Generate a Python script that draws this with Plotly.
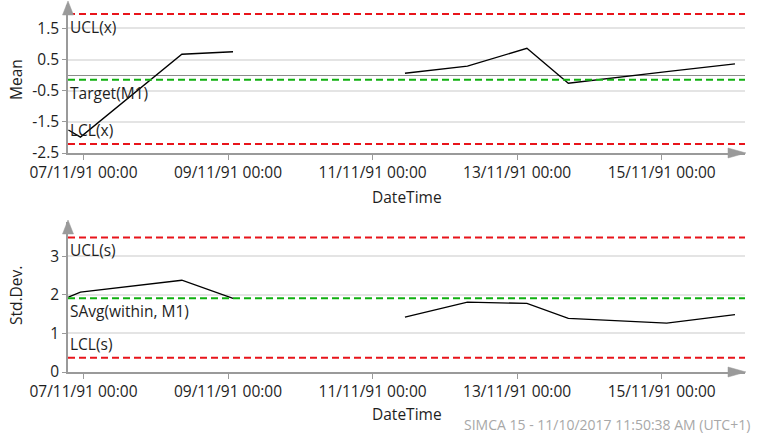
import plotly.graph_objects as go
from plotly.subplots import make_subplots

# ---- data ----
times = ["1991-11-06 19:00", "1991-11-06 23:00", "1991-11-08 08:40", "1991-11-09 01:40", None,
         "1991-11-11 10:45", "1991-11-12 07:30", "1991-11-13 03:15", "1991-11-13 17:00",
         "1991-11-15 01:40", "1991-11-16 00:20"]
mean_vals = [-1.76, -1.99, 0.67, 0.75, None, 0.06, 0.29, 0.86, -0.26, 0.11, 0.36]
std_vals = [1.94, 2.07, 2.38, 1.91, None, 1.42, 1.81, 1.78, 1.39, 1.27, 1.49]

mean_limits = {"UCL(x)": 1.96, "Target(M1)": -0.15, "LCL(x)": -2.21}
std_limits = {"UCL(s)": 3.49, "SAvg(within, M1)": 1.91, "LCL(s)": 0.37}
limit_colors = {"UCL(x)": "#e8141b", "Target(M1)": "#10b010", "LCL(x)": "#e8141b",
                "UCL(s)": "#e8141b", "SAvg(within, M1)": "#10b010", "LCL(s)": "#e8141b"}

mean_ticks = [-2.5, -1.5, -0.5, 0.5, 1.5]
std_ticks = [0, 1, 2, 3]
x_range = ["1991-11-06 18:52", "1991-11-16 03:40"]
footer = "SIMCA 15 - 11/10/2017 11:50:38 AM (UTC+1)"

# ---- layout geometry ----
W, H = 762, 434
ML, MR, MT, MB = 68, 17, 5, 62
PW, PH = W - ML - MR, H - MT - MB


def px(x):
    return (x - ML) / PW


def py(y):
    return (H - MB - y) / PH


top_dom = [py(153), 1.0]
bot_dom = [0.0, py(222)]

FONT = "Open Sans, Noto Sans, sans-serif"
TXT = "#1e1e1e"
FS = 15.5
fig = make_subplots(rows=2, cols=1)

fig.add_trace(go.Scatter(x=times, y=mean_vals, mode="lines", connectgaps=False,
                         line=dict(color="black", width=1.3), showlegend=False), row=1, col=1)
fig.add_trace(go.Scatter(x=times, y=std_vals, mode="lines", connectgaps=False,
                         line=dict(color="black", width=1.3), showlegend=False), row=2, col=1)

shapes = []
annotations = []
for (limits, xr, yr) in [(mean_limits, "x", "y"), (std_limits, "x2", "y2")]:
    for name, v in limits.items():
        shapes.append(dict(type="line", xref=xr + " domain", yref=yr, x0=0, x1=1, y0=v, y1=v,
                           line=dict(color=limit_colors[name], width=2, dash="7px,4px"), layer="above"))
        below = not name.startswith("LCL")
        annotations.append(dict(text=name, xref=xr + " domain", yref=yr, x=0, y=v,
                                xanchor="left", yanchor="top" if below else "bottom",
                                showarrow=False, xshift=0, yshift=0 if below else 1,
                                font=dict(family=FONT, size=FS, color=TXT)))

AX = "#9a9a9a"
# arrow heads
for tip_y, base_y in [(1, 15), (220, 234)]:
    shapes.append(dict(type="path", xref="paper", yref="paper",
                       path=f"M {px(68)} {py(tip_y)} L {px(62.5)} {py(base_y)} L {px(73.5)} {py(base_y)} Z",
                       fillcolor=AX, line=dict(color=AX, width=0.5), layer="above"))
for ay in [153, 372]:
    shapes.append(dict(type="path", xref="paper", yref="paper",
                       path=f"M {px(746)} {py(ay)} L {px(728)} {py(ay - 5)} L {px(728)} {py(ay + 5)} Z",
                       fillcolor=AX, line=dict(color=AX, width=0.5), layer="above"))

# axis titles placed at fixed positions
for text, x, y, ang in [("Mean", 16, 80, -90), ("Std.Dev.", 16, 296, -90),
                        ("DateTime", 406.5, 197, 0), ("DateTime", 406.5, 414, 0)]:
    annotations.append(dict(text=text, xref="paper", yref="paper", x=px(x), y=py(y),
                            xanchor="center", yanchor="middle", textangle=ang, showarrow=False,
                            font=dict(family=FONT, size=FS, color=TXT)))

annotations.append(dict(text=footer, xref="paper", yref="paper", x=px(752), y=py(424.5),
                        xanchor="right", yanchor="middle", showarrow=False,
                        font=dict(family=FONT, size=14, color="#a8a8a8")))

xaxis_common = dict(type="date", range=x_range, tickformat="%d/%m/%y %H:%M",
                    tick0="1991-11-07", dtick=2 * 86400000, showgrid=False, zeroline=False,
                    showline=True, linecolor=AX, linewidth=1.5, ticks="outside", ticklen=5,
                    tickcolor=AX, automargin=False,
                    tickfont=dict(family=FONT, size=FS, color=TXT))
yaxis_common = dict(showgrid=True, gridcolor="#e4e4e4", gridwidth=1.5,
                    showline=True, linecolor=AX, linewidth=1.5, ticks="outside", ticklen=4,
                    tickcolor=AX, automargin=False,
                    tickfont=dict(family=FONT, size=FS, color=TXT))

fig.update_layout(
    width=W, height=H, margin=dict(l=ML, r=MR, t=MT, b=MB, autoexpand=False),
    paper_bgcolor="white", plot_bgcolor="white", showlegend=False,
    xaxis=dict(**xaxis_common, anchor="y"),
    xaxis2=dict(**xaxis_common, anchor="y2"),
    yaxis=dict(**yaxis_common, domain=top_dom, range=[-2.5, 2.25], tickvals=mean_ticks,
               ticktext=[str(t) for t in mean_ticks],
               zeroline=True, zerolinecolor="#8c8c8c", zerolinewidth=1),
    yaxis2=dict(**yaxis_common, domain=bot_dom, range=[0, 3.89], tickvals=std_ticks,
                zeroline=False),
    shapes=shapes, annotations=annotations,
)

fig.write_html("out.html", config={"displayModeBar": False},
               post_script="document.body.style.margin='0';document.body.style.overflow='hidden';")
